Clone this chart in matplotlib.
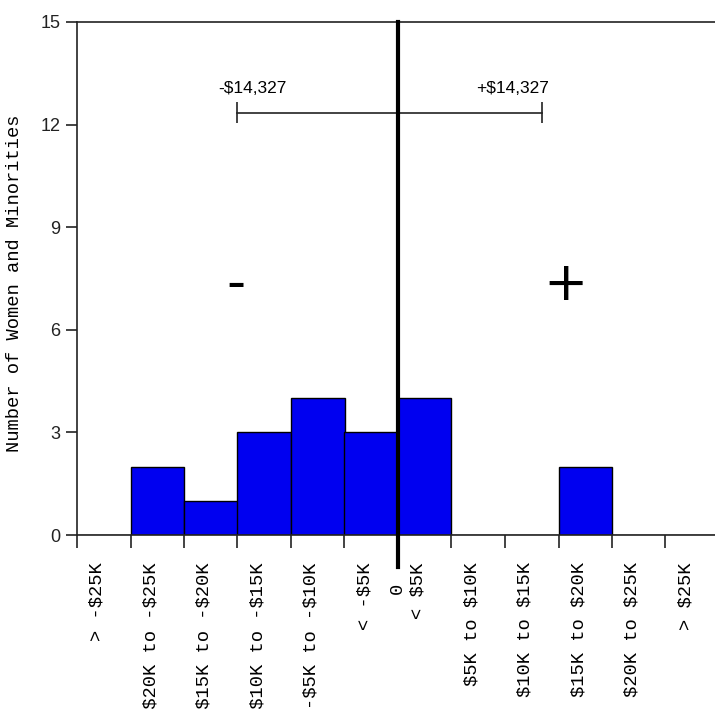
import matplotlib
matplotlib.use('Agg')
import matplotlib.pyplot as plt
import numpy as np

plt.rcParams['text.parse_math'] = False   # dollar signs are literal

# data to plot
bins = ['> -$25K', '-$20K to -$25K', '-$15K to -$20K', '-$10K to -$15K',
        '-$5K to -$10K', '< -$5K', '< $5K', '$5K to $10K', '$10K to $15K',
        '$15K to $20K', '$20K to $25K', '> $25K']
counts = [0, 2, 1, 3, 4, 3, 4, 0, 0, 2, 0, 0]
spread_lo, spread_hi = 3.0, 8.7   # bar ends of the +/- $14,327 marker (in bin units)
spread_y = 12.35
spread_labels = ('-$14,327', '+$14,327')

mono = 'Liberation Mono'
sans = 'Liberation Sans'

fig = plt.figure(figsize=(7.15, 7.12), dpi=100)
ax = fig.add_axes([77/715, 177/712, 1 - 77/715, 513/712])

index = np.arange(len(bins))
ax.bar(index, counts, width=1.0, align='edge', color='#0000f0',
       edgecolor='black', linewidth=1.0, zorder=2)

ax.set_xlim(0, 638/53.5)
ax.set_ylim(0, 15)
ax.set_yticks([0, 3, 6, 9, 12, 15])
ax.set_xticks(index)
ax.set_xticklabels([])
ax.tick_params(axis='y', direction='out', length=8, width=1.2, pad=4,
               labelsize=13, colors='#222')
ax.tick_params(axis='x', direction='out', length=9, width=1.2, colors='#222')
for lbl in ax.get_yticklabels():
    lbl.set_fontfamily(sans)
for s in ['left', 'top', 'bottom']:
    ax.spines[s].set_linewidth(1.2)
    ax.spines[s].set_color('#222')
ax.spines['right'].set_visible(False)

ax.set_ylabel('Number of Women and Minorities', fontfamily=mono, fontsize=13.5)
ax.yaxis.set_label_coords(-0.085, 0.49)

# category labels under the axis
for i, name in enumerate(bins):
    ax.text(i + 0.38, -0.8, name, rotation=90, ha='center', va='top',
            fontfamily=mono, fontsize=13.5, clip_on=False)
ax.text(6 - 0.02, -1.4, '0', rotation=90, ha='center', va='top',
        fontfamily=mono, fontsize=13.5, clip_on=False)

# zero line
ax.plot([6, 6], [-0.95, 15], color='black', lw=3, clip_on=False, zorder=3)

# +/- spread marker
ax.errorbar([spread_lo, spread_hi], [spread_y, spread_y], yerr=0.3, fmt='none',
            ecolor='#222', elinewidth=1.2, capsize=0)
ax.plot([spread_lo, spread_hi], [spread_y, spread_y], color='#222', lw=1.2)
ax.text(spread_lo + 0.27, spread_y + 0.5, spread_labels[0], ha='center', va='bottom',
        fontfamily=sans, fontsize=12.5)
ax.text(spread_hi - 0.55, spread_y + 0.5, spread_labels[1], ha='center', va='bottom',
        fontfamily=sans, fontsize=12.5)

ax.text(2.97, 7.3, '-', ha='center', va='center', fontsize=38, fontfamily='DejaVu Sans')
ax.text(9.13, 7.3, '+', ha='center', va='center', fontsize=38, fontfamily='DejaVu Sans')

plt.savefig('out.png', dpi=100)
